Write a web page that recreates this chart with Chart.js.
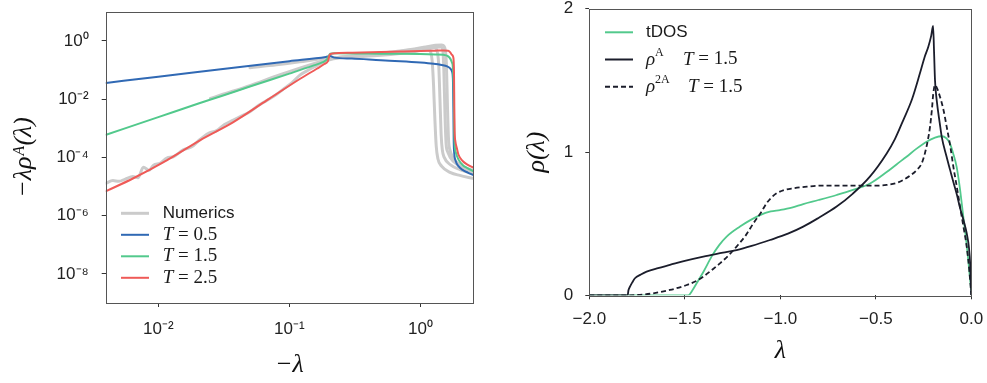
<!DOCTYPE html>
<html><head><meta charset="utf-8">
<script src="https://cdn.jsdelivr.net/npm/chart.js@4.4.0/dist/chart.umd.min.js"></script>
<style>
html,body{margin:0;padding:0;background:#fff;width:987px;height:383px;overflow:hidden}
#c1{position:absolute;left:0;top:0;width:500px;height:383px}
#c2{position:absolute;left:505px;top:0;width:482px;height:383px}
</style></head><body>
<canvas id="c1" width="500" height="383"></canvas>
<canvas id="c2" width="482" height="383"></canvas>
<script>
// ---------- Left panel: -lambda * rho^A(lambda) vs -lambda (log-log) ----------
const xTickVals = [0.01, 0.1, 1];
const xTickLabels = ['10\u207B\u00B2', '10\u207B\u00B9', '10\u2070'];
const yTickVals = [1e-8, 1e-6, 1e-4, 1e-2, 1];
const yTickLabels = ['10\u207B\u2078', '10\u207B\u2076', '10\u207B\u2074', '10\u207B\u00B2', '10\u2070'];

const blueX = [0.004, 0.01, 0.03, 0.1, 0.19, 0.205, 0.22, 0.3, 0.5, 0.7, 1.0, 1.26, 1.45, 1.6, 1.68, 1.74, 1.77, 1.785, 1.795, 1.81, 1.86, 1.95, 2.1, 2.3, 2.52];
const blueY = [0.036, 0.059, 0.105, 0.2, 0.28, 0.3, 0.265, 0.245, 0.215, 0.2, 0.18, 0.163, 0.148, 0.133, 0.115, 0.09, 0.05, 0.005, 4e-4, 1.5e-4, 7.5e-5, 5e-5, 3.7e-5, 3e-5, 2.5e-5];

const greenX = [0.004, 0.01, 0.02, 0.03, 0.05, 0.1, 0.15, 0.18, 0.195, 0.205, 0.22, 0.4, 0.7, 1.0, 1.3, 1.5, 1.62, 1.69, 1.74, 1.77, 1.795, 1.81, 1.83, 1.87, 1.95, 2.1, 2.3, 2.52];
const greenY = [6e-4, 2.4e-3, 6.9e-3, 0.0125, 0.027, 0.075, 0.138, 0.185, 0.24, 0.36, 0.372, 0.365, 0.36, 0.35, 0.34, 0.33, 0.3, 0.245, 0.18, 0.12, 0.02, 1e-3, 2.5e-4, 1.4e-4, 8.5e-5, 5.5e-5, 4.2e-5, 3.4e-5];

const redX = [0.004, 0.0064, 0.0116, 0.0208, 0.0374, 0.0672, 0.121, 0.162, 0.185, 0.197, 0.203, 0.215, 0.3, 0.5, 0.7, 1.0, 1.3, 1.5, 1.63, 1.69, 1.74, 1.78, 1.805, 1.815, 1.825, 1.85, 1.9, 1.95, 2.1, 2.3, 2.52];
const redY = [6.9e-6, 1.88e-5, 7.9e-5, 3.85e-4, 1.62e-3, 9e-3, 0.05, 0.11, 0.16, 0.2, 0.33, 0.37, 0.39, 0.41, 0.43, 0.45, 0.46, 0.465, 0.46, 0.4, 0.33, 0.28, 0.08, 0.005, 8e-4, 3.5e-4, 2e-4, 1.25e-4, 7.5e-5, 5.5e-5, 4.5e-5];

const numAX = [0.004, 0.0045, 0.005, 0.0056, 0.0064, 0.007, 0.0077, 0.0085, 0.0092, 0.0103, 0.0116, 0.013, 0.0155, 0.018, 0.0208, 0.024, 0.0279, 0.032, 0.0374, 0.043, 0.05, 0.058, 0.0672, 0.078, 0.09, 0.105, 0.121, 0.14, 0.162, 0.19, 0.217, 0.26, 0.35, 0.5, 0.7, 0.9, 1.05, 1.15, 1.2, 1.23, 1.26, 1.29, 1.32, 1.36, 1.45, 1.7, 2.0, 2.52];
const numAY = [1.3e-5, 1.6e-5, 1.5e-5, 1.8e-5, 2.2e-5, 2.0e-5, 4.6e-5, 3.6e-5, 5.4e-5, 6.2e-5, 9.5e-5, 1.05e-4, 1.8e-4, 2.3e-4, 4.1e-4, 6.6e-4, 8.3e-4, 1.35e-3, 1.9e-3, 2.6e-3, 3.7e-3, 6.0e-3, 9.0e-3, 0.0135, 0.022, 0.037, 0.068, 0.1, 0.14, 0.2, 0.24, 0.27, 0.3, 0.36, 0.42, 0.48, 0.52, 0.5, 0.4, 0.2, 0.03, 0.002, 2.5e-4, 9e-5, 5e-5, 3e-5, 2.4e-5, 1.9e-5];

const numBX = [0.025, 0.03, 0.05, 0.08, 0.12, 0.16, 0.2, 0.25, 0.35, 0.5, 0.7, 0.9, 1.1, 1.25, 1.33, 1.38, 1.41, 1.44, 1.47, 1.52, 1.7, 2.0, 2.52];
const numBY = [0.0105, 0.0138, 0.029, 0.062, 0.115, 0.175, 0.24, 0.28, 0.31, 0.36, 0.43, 0.5, 0.58, 0.62, 0.5, 0.15, 0.01, 6e-4, 1.8e-4, 1.0e-4, 5.5e-5, 3.8e-5, 2.8e-5];

const numCX = [0.05, 0.08, 0.12, 0.16, 0.2, 0.25, 0.35, 0.5, 0.7, 0.9, 1.1, 1.3, 1.42, 1.48, 1.51, 1.54, 1.57, 1.62, 1.8, 2.1, 2.52];
const numCY = [0.12, 0.15, 0.19, 0.23, 0.26, 0.27, 0.29, 0.32, 0.37, 0.43, 0.5, 0.6, 0.62, 0.5, 0.1, 0.003, 3e-4, 1.5e-4, 7e-5, 4.5e-5, 3.3e-5];

const numDX = [0.2, 0.25, 0.35, 0.5, 0.7, 0.9, 1.1, 1.3, 1.45, 1.53, 1.58, 1.61, 1.64, 1.68, 1.75, 2.0, 2.52];
const numDY = [0.25, 0.28, 0.32, 0.38, 0.45, 0.53, 0.62, 0.7, 0.72, 0.6, 0.15, 0.005, 4e-4, 1.8e-4, 1.1e-4, 5.5e-5, 3.6e-5];

// ---------- Right panel: rho(lambda) vs lambda ----------
const rxTickVals = [-2, -1.5, -1, -0.5, 0];
const rxTickLabels = ['\u22122.0', '\u22121.5', '\u22121.0', '\u22120.5', '0.0'];
const ryTickVals = [0, 1, 2];
const ryTickLabels = ['0', '1', '2'];

const tdosX = [-2, -1.482, -1.46, -1.438, -1.4, -1.36, -1.32, -1.281, -1.211, -1.15, -1.106, -1.05, -1.002, -0.94, -0.88, -0.8, -0.705, -0.62, -0.53, -0.443, -0.39, -0.339, -0.29, -0.234, -0.19, -0.155, -0.13, -0.112, -0.095, -0.077, -0.06, -0.042, -0.028, -0.016, -0.007, 0];
const tdosY = [0, 0, 0.035, 0.084, 0.17, 0.27, 0.35, 0.41, 0.48, 0.53, 0.56, 0.585, 0.595, 0.612, 0.637, 0.665, 0.70, 0.735, 0.78, 0.86, 0.915, 0.967, 1.02, 1.072, 1.10, 1.11, 1.095, 1.06, 0.99, 0.898, 0.75, 0.55, 0.4, 0.247, 0.12, 0.03];

const rhoAX = [-2, -1.799, -1.795, -1.787, -1.775, -1.761, -1.73, -1.70, -1.64, -1.578, -1.5, -1.403, -1.3, -1.229, -1.15, -1.054, -0.96, -0.88, -0.8, -0.705, -0.62, -0.531, -0.443, -0.4, -0.356, -0.31, -0.269, -0.245, -0.225, -0.21, -0.2, -0.195, -0.19, -0.181, -0.165, -0.155, -0.13, -0.11, -0.094, -0.075, -0.059, -0.04, -0.024, -0.012, -0.005, 0];
const rhoAY = [0, 0, 0.035, 0.06, 0.09, 0.119, 0.145, 0.165, 0.19, 0.212, 0.24, 0.27, 0.297, 0.316, 0.345, 0.386, 0.43, 0.479, 0.54, 0.619, 0.71, 0.828, 0.99, 1.09, 1.223, 1.37, 1.549, 1.66, 1.735, 1.81, 1.88, 1.7, 1.5, 1.36, 1.2, 1.107, 0.97, 0.87, 0.79, 0.7, 0.61, 0.52, 0.433, 0.33, 0.2, 0];

const rho2AX = [-2, -1.8, -1.72, -1.665, -1.578, -1.49, -1.44, -1.403, -1.36, -1.316, -1.27, -1.229, -1.18, -1.141, -1.1, -1.072, -1.04, -1.019, -0.98, -0.932, -0.86, -0.792, -0.7, -0.618, -0.53, -0.443, -0.39, -0.356, -0.32, -0.286, -0.26, -0.243, -0.228, -0.216, -0.206, -0.199, -0.19, -0.178, -0.164, -0.145, -0.129, -0.11, -0.094, -0.075, -0.059, -0.04, -0.024, -0.01, 0];
const rho2AY = [0, 0, 0.005, 0.014, 0.037, 0.072, 0.1, 0.13, 0.175, 0.223, 0.28, 0.34, 0.42, 0.502, 0.58, 0.642, 0.69, 0.712, 0.735, 0.747, 0.758, 0.765, 0.765, 0.765, 0.765, 0.77, 0.785, 0.805, 0.835, 0.874, 0.92, 0.99, 1.08, 1.177, 1.3, 1.409, 1.467, 1.44, 1.386, 1.29, 1.177, 1.04, 0.898, 0.75, 0.619, 0.47, 0.34, 0.17, 0];

// ---------- styling ----------
const BLUE = '#3069b4', GREEN = '#52c98c', RED = '#ef5a57', GRAY = '#cbcbcb', INK = '#1b1d2b';
const SANS = '"Liberation Sans", Arial, sans-serif';
const SERIF = '"Liberation Serif", "DejaVu Serif", serif';
const pts = (xs, ys) => xs.map((x, i) => ({x: x, y: ys[i]}));

const framePlugin = {
  id: 'frame',
  afterDraw(chart) {
    const {ctx, chartArea: a} = chart;
    ctx.save();
    ctx.strokeStyle = '#555';
    ctx.lineWidth = 1;
    ctx.strokeRect(Math.round(a.left) + 0.5, Math.round(a.top) + 0.5, Math.round(a.right - a.left), Math.round(a.bottom - a.top));
    ctx.restore();
  }
};

function legendPlugin(items, o) {
  return {
    id: 'customLegend',
    afterDraw(chart) {
      const ctx = chart.ctx, a = chart.chartArea;
      items.forEach((it, i) => {
        const y = a.top + o.y0 + i * o.dy;
        ctx.save();
        ctx.strokeStyle = it.color; ctx.lineWidth = it.width; ctx.setLineDash(it.dash || []);
        ctx.beginPath(); ctx.moveTo(a.left + o.x0, y); ctx.lineTo(a.left + o.x0 + o.len, y); ctx.stroke();
        ctx.setLineDash([]);
        ctx.fillStyle = '#1a1a1a'; ctx.textBaseline = 'middle'; ctx.textAlign = 'left';
        let x = a.left + o.tx;
        it.parts.forEach(p => {
          if (p.x !== undefined) x = a.left + o.tx + p.x;
          ctx.font = p.f;
          ctx.fillText(p.t, x, y + (p.dy || 0));
          x += ctx.measureText(p.t).width;
        });
        ctx.restore();
      });
    }
  };
}

const IT = 'italic 19px ' + SERIF, RM = '19px ' + SERIF, SUP = '12px ' + SERIF;
const leftLegend = [
  {color: GRAY, width: 3, parts: [{t: 'Numerics', f: '17px ' + SANS}]},
  {color: BLUE, width: 2, parts: [{t: 'T', f: IT}, {t: ' = 0.5', f: RM}]},
  {color: GREEN, width: 2, parts: [{t: 'T', f: IT}, {t: ' = 1.5', f: RM}]},
  {color: RED, width: 2, parts: [{t: 'T', f: IT}, {t: ' = 2.5', f: RM}]}
];
const rightLegend = [
  {color: GREEN, width: 2, parts: [{t: 'tDOS', f: '17px ' + SANS}]},
  {color: INK, width: 2, parts: [{t: '\u03C1', f: IT}, {t: 'A', f: SUP, dy: -7}, {t: 'T', f: IT, x: 37}, {t: ' = 1.5', f: RM}]},
  {color: INK, width: 2, dash: [5, 3], parts: [{t: '\u03C1', f: IT}, {t: '2A', f: SUP, dy: -7}, {t: 'T', f: IT, x: 42}, {t: ' = 1.5', f: RM}]}
];

const tickGrid = {display: true, drawOnChartArea: false, drawTicks: true, tickLength: 4, color: '#333', tickWidth: 1};
const fixV = w => s => { s.width = w; s.paddingTop = 0; s.paddingBottom = 0; };
const fixH = h => s => { s.height = h; s.paddingLeft = 0; s.paddingRight = 0; };

// ---------- left chart ----------
new Chart(document.getElementById('c1'), {
  type: 'line',
  data: {
    datasets: [
      {label: 'T = 2.5', data: pts(redX, redY), borderColor: RED, borderWidth: 2},
      {label: 'T = 1.5', data: pts(greenX, greenY), borderColor: GREEN, borderWidth: 2},
      {label: 'T = 0.5', data: pts(blueX, blueY), borderColor: BLUE, borderWidth: 2},
      {label: 'Numerics', data: pts(numAX, numAY), borderColor: GRAY, borderWidth: 3},
      {label: 'Numerics', data: pts(numBX, numBY), borderColor: GRAY, borderWidth: 3},
      {label: 'Numerics', data: pts(numCX, numCY), borderColor: GRAY, borderWidth: 3},
      {label: 'Numerics', data: pts(numDX, numDY), borderColor: GRAY, borderWidth: 3}
    ]
  },
  options: {
    responsive: false, animation: false, devicePixelRatio: 1,
    layout: {padding: {left: 0, top: 11.7, right: 27, bottom: 0}},
    plugins: {legend: {display: false}, tooltip: {enabled: false}},
    elements: {point: {radius: 0}, line: {cubicInterpolationMode: 'monotone', borderJoinStyle: 'round', borderCapStyle: 'round', fill: false}},
    scales: {
      x: {
        type: 'logarithmic', min: 0.00397, max: 2.52,
        afterBuildTicks: s => { s.ticks = xTickVals.map(v => ({value: v})); },
        afterFit: fixH(80),
        grid: tickGrid, border: {display: false},
        ticks: {callback: v => xTickLabels[xTickVals.indexOf(v)], font: {family: SANS, size: 17}, color: '#222', padding: 12, maxRotation: 0, autoSkip: false},
        title: {display: true, text: '\u2212\u03BB', font: {family: SERIF, size: 26, style: 'italic'}, color: '#111', padding: {top: 0, bottom: 2}}
      },
      y: {
        type: 'logarithmic', min: 1e-9, max: 10,
        afterBuildTicks: s => { s.ticks = yTickVals.map(v => ({value: v})); },
        afterFit: fixV(105.7),
        grid: tickGrid, border: {display: false},
        ticks: {callback: v => yTickLabels[yTickVals.indexOf(v)], font: {family: SANS, size: 17}, color: '#222', padding: 13, autoSkip: false},
        title: {display: true, text: '\u2212\u03BB\u03C1\u1D2C(\u03BB)', font: {family: SERIF, size: 26, style: 'italic'}, color: '#111', padding: {top: 9, bottom: 0}}
      }
    }
  },
  plugins: [framePlugin, legendPlugin(leftLegend, {x0: 15.3, len: 28, tx: 57, y0: 201.6, dy: 21.5})]
});

// ---------- right chart ----------
new Chart(document.getElementById('c2'), {
  type: 'line',
  data: {
    datasets: [
      {label: '\u03C1A T = 1.5', data: pts(rhoAX, rhoAY), borderColor: INK, borderWidth: 1.8},
      {label: '\u03C12A T = 1.5', data: pts(rho2AX, rho2AY), borderColor: INK, borderWidth: 1.8, borderDash: [5, 3]},
      {label: 'tDOS', data: pts(tdosX, tdosY), borderColor: GREEN, borderWidth: 1.8}
    ]
  },
  options: {
    responsive: false, animation: false, devicePixelRatio: 1,
    layout: {padding: {left: 0, top: 8.7, right: 15.7, bottom: 0}},
    plugins: {legend: {display: false}, tooltip: {enabled: false}},
    elements: {point: {radius: 0}, line: {cubicInterpolationMode: 'monotone', borderJoinStyle: 'round', fill: false}},
    scales: {
      x: {
        type: 'linear', min: -2, max: 0,
        afterBuildTicks: s => { s.ticks = rxTickVals.map(v => ({value: v})); },
        afterFit: fixH(87.7),
        grid: tickGrid, border: {display: false},
        ticks: {callback: v => rxTickLabels[rxTickVals.indexOf(v)], font: {family: SANS, size: 17}, color: '#222', padding: 10, maxRotation: 0, autoSkip: false},
        title: {display: true, text: '\u03BB', font: {family: SERIF, size: 26, style: 'italic'}, color: '#111', padding: {top: 0, bottom: 16}}
      },
      y: {
        type: 'linear', min: 0, max: 2,
        afterBuildTicks: s => { s.ticks = ryTickVals.map(v => ({value: v})); },
        afterFit: fixV(84.3),
        grid: tickGrid, border: {display: false},
        ticks: {callback: v => ryTickLabels[ryTickVals.indexOf(v)], font: {family: SANS, size: 17}, color: '#222', padding: 12, autoSkip: false},
        title: {display: true, text: '\u03C1(\u03BB)', font: {family: SERIF, size: 26, style: 'italic'}, color: '#111', padding: {top: 17, bottom: 0}}
      }
    }
  },
  plugins: [framePlugin, legendPlugin(rightLegend, {x0: 15.7, len: 28, tx: 56.7, y0: 23.6, dy: 27.2})]
});
</script></body></html>
